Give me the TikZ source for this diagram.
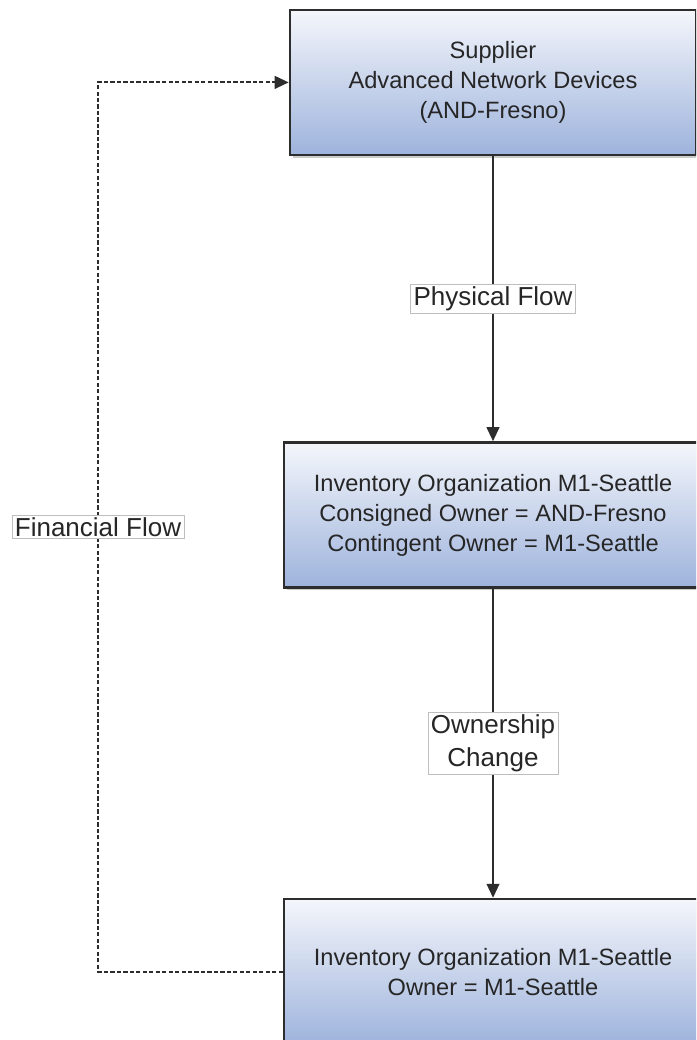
\documentclass[tikz,border=0pt]{standalone}
\usepackage{fontspec}
\setmainfont{Liberation Sans}
\usetikzlibrary{arrows.meta,shadows}

\definecolor{boxtop}{RGB}{244,246,251}
\definecolor{boxbottom}{RGB}{158,179,220}
\definecolor{boxline}{RGB}{45,45,45}
\definecolor{tagline}{RGB}{190,190,190}

\tikzset{
  orgbox/.style={draw=boxline, line width=1.8pt, top color=boxtop, bottom color=boxbottom,
    minimum height=3.625cm, align=center, text=black!85,
    font=\fontsize{16.8}{21.3}\selectfont,
    drop shadow={shadow xshift=2pt, shadow yshift=-2pt, opacity=0.4}},
  flowtag/.style={solid, fill=white, draw=tagline, line width=0.5pt, inner xsep=2pt, inner ysep=1.5pt,
    align=center, text=black!85, font=\fontsize{18.5}{23.4}\selectfont},
  flowline/.style={line width=1.5pt, draw=boxline, -{Triangle[length=10pt,width=9pt]}},
  cashline/.style={flowline, dash pattern=on 3pt off 1.6pt}
}

\begin{document}
\begin{tikzpicture}
    \useasboundingbox (0,0) rectangle (17.4,-26);
    \clip (0,0) rectangle (17.4,-26);

    % Boxes
    \node[orgbox, minimum width=10.15cm] (supplier) at (12.325,-2.06)
        {Supplier\\Advanced Network Devices\\(AND-Fresno)};
    \node[orgbox, minimum width=10.45cm] (invconsigned) at (12.325,-12.875)
        {Inventory Organization M1-Seattle\\Consigned Owner = AND-Fresno\\Contingent Owner = M1-Seattle};
    \node[orgbox, minimum width=10.45cm] (invowned) at (12.325,-24.29)
        {Inventory Organization M1-Seattle\\Owner = M1-Seattle};

    % Physical flow and ownership change
    \draw[flowline] (supplier.south) -- node[flowtag] {Physical Flow} (invconsigned.north);
    \draw[flowline] (invconsigned.south) -- node[flowtag] {Ownership\\Change} (invowned.north);

    % Financial flow
    \coordinate (finlow) at (2.45,-24.29);
    \coordinate (finhigh) at (2.45,-2.06);
    \draw[cashline] (invowned.west) -- (finlow) -- node[flowtag] {Financial Flow} (finhigh) -- (supplier.west);
\end{tikzpicture}
\end{document}
